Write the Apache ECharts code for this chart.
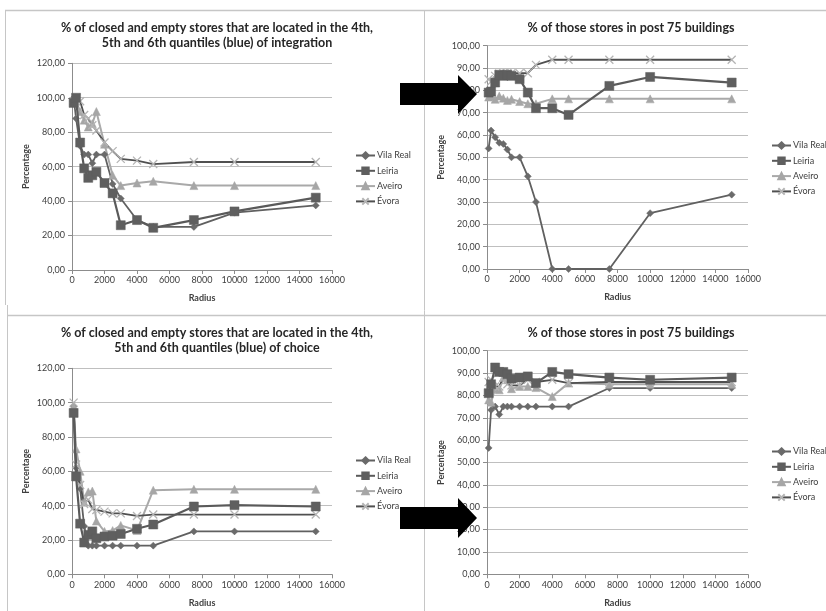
<!DOCTYPE html>
<html>
<head>
<meta charset="utf-8">
<script src="https://cdn.jsdelivr.net/npm/echarts@6/dist/echarts.min.js"></script>
<style>html,body{margin:0;padding:0;background:#fff}#c{width:826px;height:611px}</style>
</head>
<body>
<div id="c"></div>
<script>
// ---------- data ----------
const radius = [100, 250, 500, 750, 1000, 1250, 1500, 2000, 2500, 3000, 4000, 5000, 7500, 10000, 15000];
const seriesNames = ['Vila Real', 'Leiria', 'Aveiro', 'Évora'];

const titles = [
  '% of closed and empty stores that are located in the 4th,\n5th and 6th quantiles (blue) of integration',
  '% of those stores in post 75 buildings',
  '% of closed and empty stores that are located in the 4th,\n5th and 6th quantiles (blue) of choice',
  '% of those stores in post 75 buildings'
];

// Panel 1: integration
const intVilaReal = [100, 88, 72, 67, 67, 62, 67, 67, 50, 41.5, 29, 25, 25, 33.3, 37.5];
const intLeiria   = [97, 100, 74, 59, 53.5, 55, 57, 50.5, 44.5, 26, 29, 24.5, 29, 34, 42];
const intAveiro   = [100, 98, 92, 87, 83, 85, 92, 73, 55, 49, 50.5, 51.5, 49, 49, 49];
const intEvora    = [98, 100, 98, 90, 88, 84, 81, 74, 69, 64.5, 63.5, 61.5, 62.7, 62.7, 62.7];

// Panel 2: integration, post 75 buildings
const intP75VilaReal = [54, 62, 59, 56.5, 56, 53.5, 50, 50, 41.5, 30, 0, 0, 0, 25, 33.3];
const intP75Leiria   = [79, 79.5, 83.5, 87, 86.5, 87, 86.5, 85, 79, 72, 72, 69, 82, 86, 83.5];
const intP75Aveiro   = [77, 77.5, 76, 77.5, 76.5, 75.5, 76, 75, 74, 74, 76.2, 76.2, 76.2, 76.2, 76.2];
const intP75Evora    = [85, 84, 86.5, 87.5, 87.7, 87.7, 87.7, 87.7, 87.7, 91.4, 93.7, 93.7, 93.7, 93.7, 93.7];

// Panel 3: choice
const choVilaReal = [98, 62, 50, 28, 16.7, 16.7, 16.7, 16.7, 16.7, 16.7, 16.7, 16.7, 25, 25, 25];
const choLeiria   = [94, 57, 29.5, 18.5, 23, 25, 21, 22, 22.5, 23.5, 26.5, 29, 39.5, 40.3, 39.5];
const choAveiro   = [98, 73, 60, 42, 48, 48.5, 31, 25, 25.5, 28.5, 25.5, 49, 49.5, 49.5, 49.5];
const choEvora    = [100, 64, 52, 41, 43.5, 38, 37.5, 36.5, 35.5, 35.5, 34, 34.8, 34.8, 34.8, 34.8];

// Panel 4: choice, post 75 buildings
const choP75VilaReal = [56.5, 73.5, 75, 71.5, 75, 75, 75, 75, 75, 75, 75, 75, 83.3, 83.3, 83.3];
const choP75Leiria   = [81, 85, 92.5, 90.5, 90.5, 89.5, 87.5, 88, 88.5, 85.5, 90.5, 89.5, 88, 87, 88];
const choP75Aveiro   = [78, 77, 83, 82.5, 88, 87, 83, 84, 84, 83.5, 79.5, 85.5, 85, 85, 85];
const choP75Evora    = [86, 87, 84, 84, 88, 85, 84.5, 84.5, 87, 86, 87, 85.5, 86, 86, 86];

const panelData = [
  [intVilaReal, intLeiria, intAveiro, intEvora],
  [intP75VilaReal, intP75Leiria, intP75Aveiro, intP75Evora],
  [choVilaReal, choLeiria, choAveiro, choEvora],
  [choP75VilaReal, choP75Leiria, choP75Aveiro, choP75Evora]
];
const yMax = [120, 100, 120, 100];
const yStep = [20, 10, 20, 10];

// ---------- layout / style ----------
const FONT = 'Lato, "Liberation Sans", sans-serif';
const grids = [
  {left: 72, top: 63.3, width: 260, height: 206.7},
  {left: 487, top: 45.7, width: 261, height: 223.3},
  {left: 72, top: 368.3, width: 260, height: 206},
  {left: 487, top: 350.7, width: 261, height: 223.6}
];
const titlePos = [
  {x: 217, y: 20}, {x: 631, y: 20}, {x: 217, y: 325}, {x: 631, y: 325}
];
const legendPos = [
  {left: 355, top: 151}, {left: 771, top: 141}, {left: 355, top: 456}, {left: 771, top: 447}
];
const styles = [
  {symbol: 'diamond', symbolSize: 7, color: '#6a6a6a', line: '#606060', lw: 1.8},
  {symbol: 'rect', symbolSize: 9, color: '#5f5f5f', line: '#5a5a5a', lw: 2.2},
  {symbol: 'triangle', symbolSize: 8, color: '#a6a6a6', line: '#a9a9a9', lw: 2},
  {symbol: 'path://M0,0L10,10M0,10L10,0', symbolSize: 8, color: '#b4b4b4', line: '#505050', lw: 1.8, xmark: true}
];
const fmtY = v => v.toFixed(2).replace('.', ',');
const fmtX = v => String(v);

const option = {
  backgroundColor: '#fff',
  animation: false,
  title: titles.map((t, i) => ({
    text: t, left: titlePos[i].x, top: titlePos[i].y, textAlign: 'center', padding: 0,
    textStyle: {fontFamily: FONT, fontWeight: 'bold', fontSize: 12.5, color: '#262626', lineHeight: 15}
  })),
  grid: grids.map(g => Object.assign({outerBoundsMode: 'none', containLabel: false}, g)),
  xAxis: grids.map((g, i) => ({
    type: 'value', gridIndex: i, min: 0, max: 16000, interval: 2000,
    name: 'Radius', nameLocation: 'middle', nameGap: 24,
    nameTextStyle: {fontFamily: FONT, fontWeight: 'bold', fontSize: 9, color: '#404040'},
    axisLine: {show: true, lineStyle: {color: '#8c8c8c', width: 1}},
    axisTick: {show: true, length: 4, lineStyle: {color: '#8c8c8c'}},
    axisLabel: {fontFamily: FONT, fontSize: 9, color: '#404040', margin: 6, formatter: fmtX},
    splitLine: {show: false}
  })),
  yAxis: grids.map((g, i) => ({
    type: 'value', gridIndex: i, min: 0, max: yMax[i], interval: yStep[i],
    name: 'Percentage', nameLocation: 'middle', nameGap: 41, nameRotate: 90,
    nameTextStyle: {fontFamily: FONT, fontWeight: 'bold', fontSize: 9, color: '#404040'},
    axisLine: {show: true, lineStyle: {color: '#8c8c8c', width: 1}},
    axisTick: {show: true, length: 4, lineStyle: {color: '#8c8c8c'}},
    axisLabel: {fontFamily: FONT, fontSize: 9, color: '#404040', margin: 7, formatter: fmtY},
    splitLine: {show: true, lineStyle: {color: '#bfbfbf', width: 1}}
  })),
  legend: legendPos.map(p => ({
    left: p.left, top: p.top, orient: 'vertical', itemWidth: 19, itemHeight: 8, itemGap: 6.3,
    padding: 0, selectedMode: false,
    data: seriesNames,
    textStyle: {fontFamily: FONT, fontSize: 9, color: '#404040', padding: [0, 0, 0, -3]}
  })),
  series: [],
  graphic: []
};

panelData.forEach((arrs, p) => {
  arrs.forEach((vals, s) => {
    const st = styles[s];
    option.series.push({
      type: 'line', name: seriesNames[s], xAxisIndex: p, yAxisIndex: p,
      data: radius.map((r, k) => [r, vals[k]]),
      symbol: st.symbol, symbolSize: st.symbolSize, showSymbol: true,
      lineStyle: {color: st.line, width: st.lw},
      itemStyle: st.xmark ? {color: st.color, borderColor: st.color, borderWidth: 1.3} : {color: st.color, borderColor: st.color, borderWidth: 0.5},
      z: s === 1 ? 3 : 2
    });
  });
});

// panel frame lines and arrows (decorations)
const frameColor = '#c6c6c6';
option.graphic = [
  {type: 'line', shape: {x1: 5, y1: 10.5, x2: 826, y2: 10.5}, style: {stroke: frameColor, lineWidth: 1.5}, silent: true},
  {type: 'line', shape: {x1: 5.5, y1: 10, x2: 5.5, y2: 305}, style: {stroke: frameColor, lineWidth: 1}, silent: true},
  {type: 'line', shape: {x1: 7.5, y1: 305, x2: 7.5, y2: 611}, style: {stroke: frameColor, lineWidth: 1}, silent: true},
  {type: 'line', shape: {x1: 7, y1: 315.5, x2: 826, y2: 315.5}, style: {stroke: frameColor, lineWidth: 1.5}, silent: true},
  {type: 'line', shape: {x1: 424.5, y1: 10, x2: 424.5, y2: 611}, style: {stroke: frameColor, lineWidth: 1}, silent: true},
  {type: 'polygon', shape: {points: [[400, 83], [458, 83], [458, 75], [477, 94], [458, 114], [458, 105], [400, 105]]}, style: {fill: '#000'}, z: 100},
  {type: 'polygon', shape: {points: [[400, 507], [458, 507], [458, 498], [477, 518], [458, 538], [458, 529], [400, 529]]}, style: {fill: '#000'}, z: 100}
];

const chart = echarts.init(document.getElementById('c'), null, {renderer: 'canvas'});
chart.setOption(option);
</script>
</body>
</html>
